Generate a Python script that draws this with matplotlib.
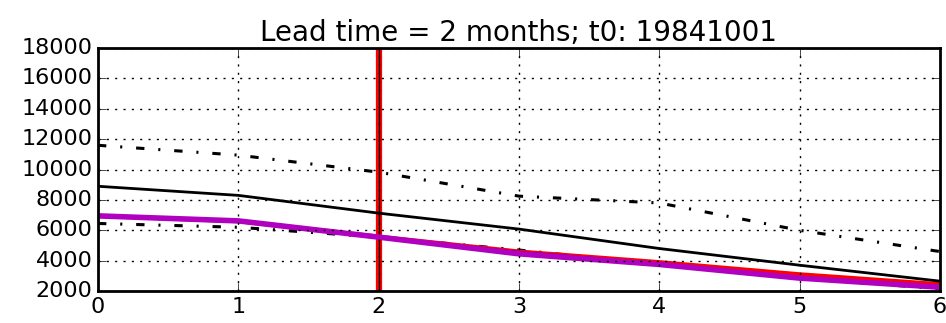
import matplotlib
matplotlib.use("Agg")
import matplotlib.pyplot as plt

plt.style.use("classic")

lead = [0, 1, 2, 3, 4, 5, 6]
upper_dd = [11600, 10950, 9830, 8250, 7800, 6000, 4600]
lower_dd = [6450, 6200, 5550, 4700, 3750, 2850, 2150]
obs = [8900, 8300, 7130, 6080, 4800, 3700, 2650]
purple = [6950, 6620, 5550, 4450, 3750, 2850, 2250]
red = [6950, 6600, 5580, 4600, 3900, 3100, 2450]
blue = [6950, 6600, 5550, 4550, 3800, 2900, 2200]
t0_lead = 2

fig = plt.figure(figsize=(9.46, 3.23), dpi=100, facecolor="white")
ax = fig.add_axes([0.1036, 0.099, 0.8900, 0.752])

dd = (0, (6, 10, 1.5, 10))
ax.axvline(t0_lead, color="red", linewidth=4.5, zorder=1)
ax.axvline(t0_lead, color="black", linewidth=1, zorder=1)
ax.plot(lead, upper_dd, color="black", linestyle=dd, linewidth=2.2)
ax.plot(lead, lower_dd, color="black", linestyle=dd, linewidth=2.2)
ax.plot(lead, red, color="red", linewidth=3)
ax.plot(lead, blue, color="blue", linewidth=2)
ax.plot(lead, purple, color="#b000c0", linewidth=4)
ax.plot(lead, obs, color="black", linewidth=2)

ax.set_xlim(0, 6)
ax.set_ylim(2000, 18000)
ax.set_yticks(range(2000, 18001, 2000))
ax.grid(True, color="black", linestyle=(0, (1.5, 4.5)), linewidth=1)
ax.tick_params(labelsize=16, length=6)
for s in ax.spines.values():
    s.set_linewidth(2)
ax.set_title("Lead time = 2 months; t0: 19841001", fontsize=20)

fig.savefig("out.png", dpi=100, facecolor="white")
